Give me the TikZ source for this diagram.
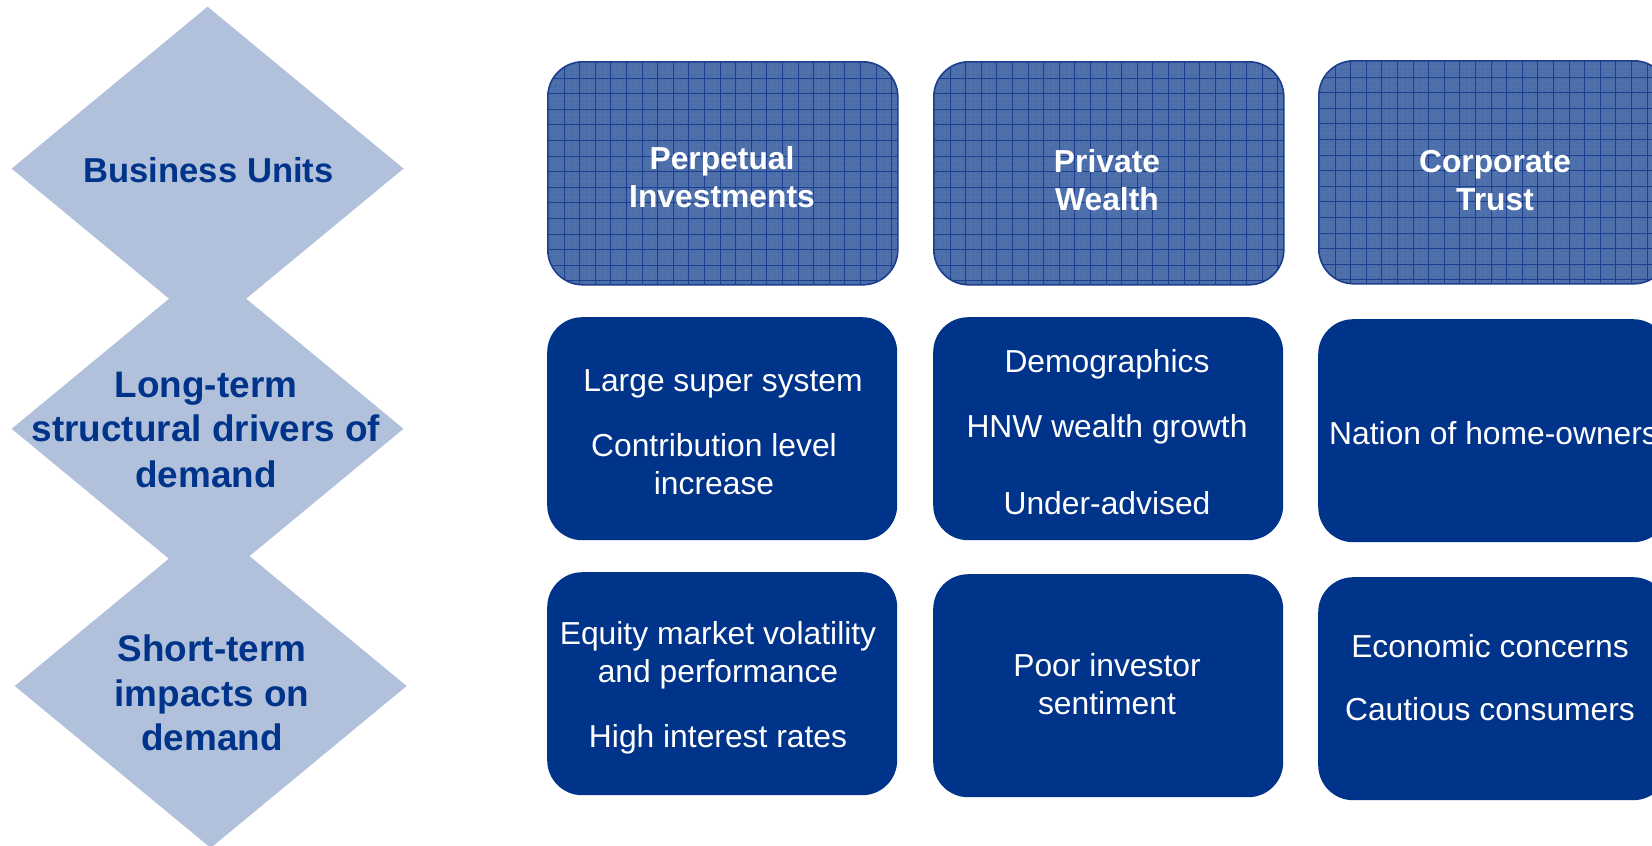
\documentclass[tikz,border=0pt]{standalone}
\usepackage{fontspec}
\setmainfont{Liberation Sans}
\usetikzlibrary{shapes.geometric}

\definecolor{navy}{HTML}{00338A}
\definecolor{lightsteel}{HTML}{B2C1DB}
\definecolor{gridbg}{HTML}{4B6DAA}
\definecolor{gridline}{HTML}{1C3E8E}
\definecolor{gridfine}{HTML}{5072AD}

\begin{document}
\begin{tikzpicture}[x=1pt,y=-1pt,
  level/.style={shape=diamond, fill=lightsteel, draw=none, inner sep=0pt,
    minimum width=392pt, minimum height=324pt},
  levellabel/.style={anchor=base, inner sep=0pt, text=navy,
    font=\fontsize{34.6}{45}\selectfont\bfseries},
  levellabelwide/.style={levellabel,
    font=\fontsize{36.9}{45}\selectfont\bfseries},
  unitbox/.style={anchor=north west, rectangle, rounded corners=35pt,
    minimum width=350pt, minimum height=223pt, inner sep=0pt,
    fill=gridbg, draw=gridline, line width=1.6pt,
    path picture={
      % faint fine texture
      \foreach \i in {1,...,68}
        \draw[gridfine, line width=0.3pt]
          ([xshift=\i*5.2pt]path picture bounding box.north west) --
          ([xshift=\i*5.2pt]path picture bounding box.south west);
      \foreach \j in {1,...,44}
        \draw[gridfine, line width=0.3pt]
          ([yshift=-\j*5.2pt]path picture bounding box.north west) --
          ([yshift=-\j*5.2pt]path picture bounding box.north east);
      % main grid, snapped to whole units
      \foreach \i in {1,...,22} {
        \pgfmathsetmacro\gx{round(\i*15.6)+0.5}
        \draw[gridline, line width=1.3pt]
          ([xshift=\gx pt]path picture bounding box.north west) --
          ([xshift=\gx pt]path picture bounding box.south west);
      }
      \foreach \j in {1,...,14} {
        \pgfmathsetmacro\gy{round(\j*15.6)+0.5}
        \draw[gridline, line width=1.3pt]
          ([yshift=-\gy pt]path picture bounding box.north west) --
          ([yshift=-\gy pt]path picture bounding box.north east);
      }
    }},
  cellbox/.style={anchor=north west, rectangle, rounded corners=35pt,
    minimum width=350pt, minimum height=223pt, inner sep=0pt, fill=navy},
  unitlabel/.style={anchor=base, inner sep=0pt, text=white,
    font=\fontsize{31.8}{38}\selectfont\bfseries},
  celltext/.style={anchor=base, inner sep=0pt, text=white,
    font=\fontsize{31.8}{38}\selectfont},
]
\useasboundingbox (0,0) rectangle (1652,846);
\clip (0,0) rectangle (1652,846);

% stacked level diamonds
\node[level] (d1) at (207.6,168.6) {};
\node[level] (d2) at (207.6,428.8) {};
\node[level] (d3) at (210.7,686) {};

\node[levellabel] (l1) at (208.6,182) {Business Units};
\node[levellabelwide] (l2a) at (206,397.5) {Long-term};
\node[levellabelwide] (l2b) at (206,441.5) {structural drivers of};
\node[levellabelwide] (l2c) at (206,487) {demand};
\node[levellabelwide] (l3a) at (212,661) {Short-term};
\node[levellabelwide] (l3b) at (212,706) {impacts on};
\node[levellabelwide] (l3c) at (212,750.5) {demand};

% business unit headers
\node[unitbox] (u1) at (547,61) {};
\node[unitbox] (u2) at (933,61) {};
\node[unitbox] (u3) at (1318,60) {};

\node[unitlabel] (u1a) at (722,169.4) {Perpetual};
\node[unitlabel] (u1b) at (722,207.4) {Investments};
\node[unitlabel] (u2a) at (1107,172.4) {Private};
\node[unitlabel] (u2b) at (1107,210.4) {Wealth};
\node[unitlabel] (u3a) at (1495,172.4) {Corporate};
\node[unitlabel] (u3b) at (1495,210.4) {Trust};

% long-term drivers
\node[cellbox] (c21) at (547,317) {};
\node[cellbox] (c22) at (933,317) {};
\node[cellbox] (c23) at (1318,319) {};

\node[celltext] (t21a) at (723,391.4) {Large super system};
\node[celltext] (t21b) at (714,456.4) {Contribution level};
\node[celltext] (t21c) at (714,494) {increase};
\node[celltext] (t22a) at (1107,372.4) {Demographics};
\node[celltext] (t22b) at (1107,437.4) {HNW wealth growth};
\node[celltext] (t22c) at (1107,514) {Under-advised};
\node[celltext, anchor=base west] (t23a) at (1329,444) {Nation of home-owners};

% short-term impacts
\node[cellbox] (c31) at (547,572) {};
\node[cellbox] (c32) at (933,574) {};
\node[cellbox] (c33) at (1318,577) {};

\node[celltext] (t31a) at (718,644.4) {Equity market volatility};
\node[celltext] (t31b) at (718,682.4) {and performance};
\node[celltext] (t31c) at (718,747) {High interest rates};
\node[celltext] (t32a) at (1107,676.4) {Poor investor};
\node[celltext] (t32b) at (1107,714.4) {sentiment};
\node[celltext] (t33a) at (1490,657) {Economic concerns};
\node[celltext] (t33b) at (1490,720.5) {Cautious consumers};
\end{tikzpicture}
\end{document}
